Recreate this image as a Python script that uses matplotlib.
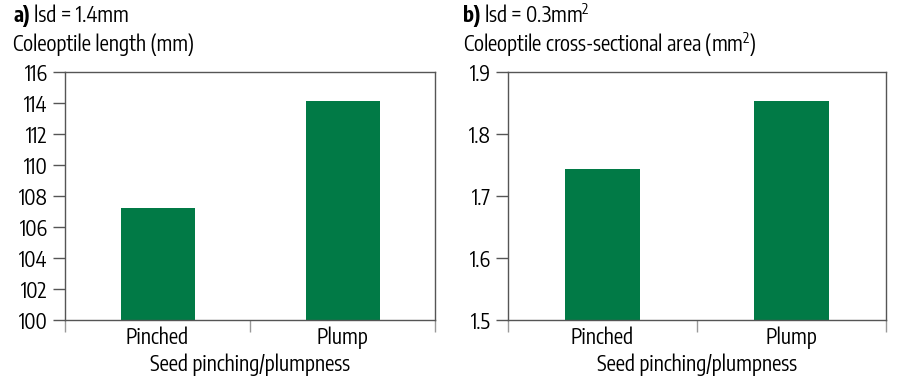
import matplotlib
matplotlib.use("Agg")
import matplotlib.pyplot as plt
from matplotlib.ticker import FixedLocator

plt.rcParams['font.family'] = ['Encode Sans Condensed', 'DejaVu Sans']
plt.rcParams['mathtext.fontset'] = 'custom'
plt.rcParams['mathtext.rm'] = 'Encode Sans Condensed'
plt.rcParams['mathtext.it'] = 'Encode Sans Condensed'
plt.rcParams['mathtext.bf'] = 'Encode Sans Condensed:bold'
plt.rcParams['mathtext.default'] = 'regular'

categories = ["Pinched", "Plump"]
length_values = [107.2, 114.1]
area_values = [1.744, 1.853]
length_ticks = [100, 102, 104, 106, 108, 110, 112, 114, 116]
area_ticks = [1.5, 1.6, 1.7, 1.8, 1.9]
xlabel = "Seed pinching/plumpness"

GREEN = "#017a46"
SPINE = "#555555"
FS = 15

fig = plt.figure(figsize=(9, 3.83), dpi=100)
W, H = 900, 383

def make_ax(left, right, top, bottom):
    return fig.add_axes([left / W, 1 - bottom / H, (right - left) / W, (bottom - top) / H])

axA = make_ax(65, 435, 72, 320)
axB = make_ax(508, 886, 72, 320)

def style(ax, values, ticks, ylim, fmt):
    x = range(len(categories))
    ax.bar(x, values, width=0.4, color=GREEN, zorder=2)
    ax.set_xlim(-0.5, len(categories) - 0.5)
    ax.set_ylim(*ylim)
    ax.set_yticks(ticks)
    ax.set_yticklabels([fmt(t) for t in ticks], fontsize=FS)
    ax.set_xticks(list(x))
    ax.set_xticklabels(categories, fontsize=FS)
    ax.xaxis.set_minor_locator(FixedLocator([-0.5, 0.5, 1.5]))
    ax.tick_params(axis='x', which='major', length=0, pad=5)
    ax.tick_params(axis='x', which='minor', length=8.6, width=1, color="#999999")
    ax.tick_params(axis='y', length=8.6, width=1, color=SPINE, pad=4)
    for s in ax.spines.values():
        s.set_color(SPINE)
        s.set_linewidth(1)
    ax.set_xlabel(xlabel, fontsize=FS, labelpad=3)

style(axA, length_values, length_ticks, (100, 116), lambda t: f"{t:d}")
style(axB, area_values, area_ticks, (1.5, 1.9), lambda t: f"{t:.1f}")

def title(xpx, ypx, bold, rest):
    t1 = fig.text(xpx / W, 1 - ypx / H, bold, fontsize=FS, fontweight='bold', va='center', ha='left')
    fig.canvas.draw()
    bb = t1.get_window_extent()
    fig.text(bb.x1 / W + 4 / W, 1 - ypx / H, rest, fontsize=FS, va='center', ha='left')

title(13, 16, "a)", "lsd = 1.4mm")
title(463, 16, "b)", "lsd = 0.3mm$^{2}$")
fig.text(13 / W, 1 - 45 / H, "Coleoptile length (mm)", fontsize=FS, va='center', ha='left')
fig.text(463 / W, 1 - 45 / H, "Coleoptile cross-sectional area (mm$^{2}$)", fontsize=FS, va='center', ha='left')

fig.savefig("out.png", dpi=100)
